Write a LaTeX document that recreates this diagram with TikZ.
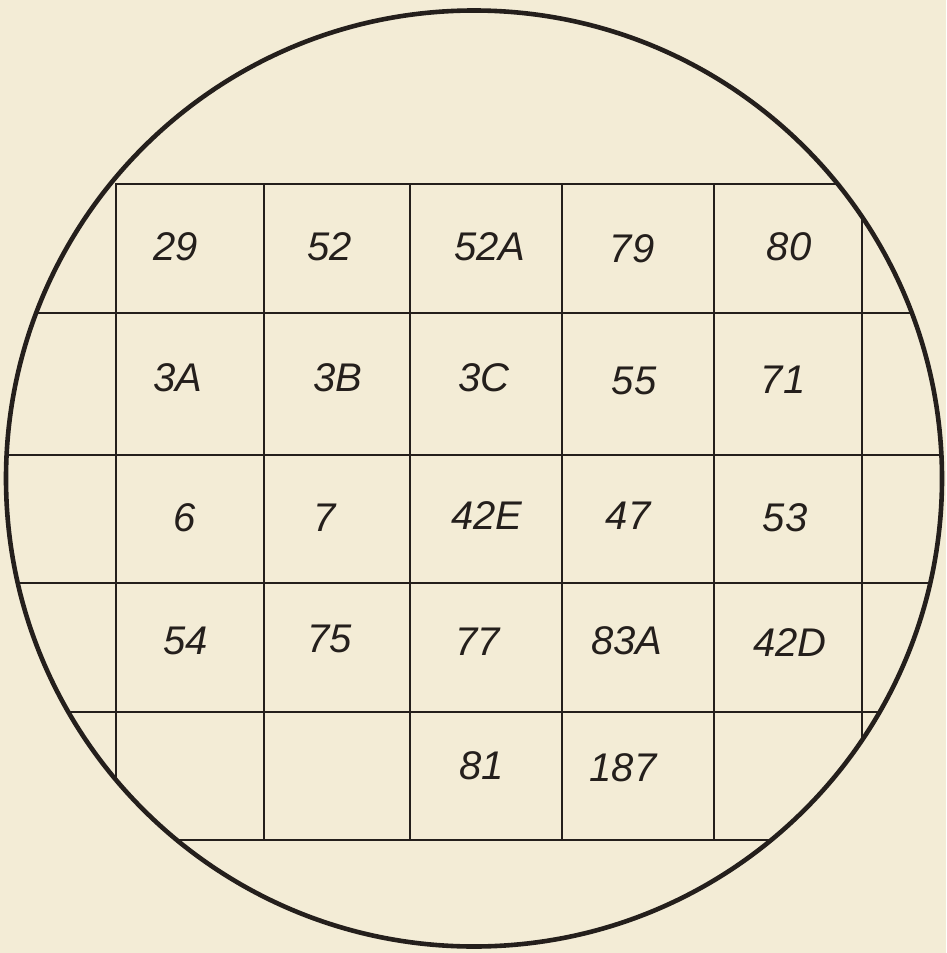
\documentclass[tikz,border=0pt]{standalone}
\usepackage{fontspec}
\setmainfont{Liberation Sans}
\definecolor{paper}{RGB}{243,236,214}
\definecolor{ink}{RGB}{36,31,28}
\begin{document}
\begin{tikzpicture}[x=1pt,y=-1pt,
  gridline/.style={draw=ink,line width=2pt},
  rim/.style={draw=ink,line width=4.6pt},
  lbl/.style={font=\fontsize{40}{40}\selectfont\itshape,text=ink,inner sep=0pt,anchor=center}]
\fill[paper] (0,0) rectangle (946,953);
\useasboundingbox (0,0) rectangle (946,953);
\coordinate (c) at (474,478.5);
\begin{scope}
  \clip (c) circle[radius=467];
  % horizontal lines
  \draw[gridline] (116,184) -- (946,184);
  \draw[gridline] (0,313) -- (946,313);
  \draw[gridline] (0,455) -- (946,455);
  \draw[gridline] (0,583) -- (946,583);
  \draw[gridline] (0,712) -- (946,712);
  \draw[gridline] (0,840) -- (946,840);
  % vertical lines
  \draw[gridline] (116,183) -- (116,953);
  \draw[gridline] (264,184) -- (264,840);
  \draw[gridline] (410,184) -- (410,840);
  \draw[gridline] (562,184) -- (562,840);
  \draw[gridline] (714,184) -- (714,840);
  \draw[gridline] (862,0) -- (862,953);
\end{scope}
\draw[rim] (c) circle[radius=468];
% labels
\node[lbl] (l29)  at (176,247) {29};
\node[lbl] (l52)  at (330,247) {52};
\node[lbl] (l52A) at (490,247) {52A};
\node[lbl] (l79)  at (632,249) {79};
\node[lbl] (l80)  at (789,247) {80};
\node[lbl] (l3A)  at (178,378) {3A};
\node[lbl] (l3B)  at (338,378) {3B};
\node[lbl] (l3C)  at (484,378) {3C};
\node[lbl] (l55)  at (634,381) {55};
\node[lbl] (l71)  at (783,380) {71};
\node[lbl] (l6)   at (185,518) {6};
\node[lbl] (l7)   at (325,518) {7};
\node[lbl] (l42E) at (487,516) {42E};
\node[lbl] (l47)  at (628,516) {47};
\node[lbl] (l53)  at (785,518) {53};
\node[lbl] (l54)  at (186,641) {54};
\node[lbl] (l75)  at (330,639) {75};
\node[lbl] (l77)  at (478,642) {77};
\node[lbl] (l83A) at (627,641) {83A};
\node[lbl] (l42D) at (790,643) {42D};
\node[lbl] (l81)  at (482,766) {81};
\node[lbl] (l187) at (623,768) {187};
\end{tikzpicture}
\end{document}
